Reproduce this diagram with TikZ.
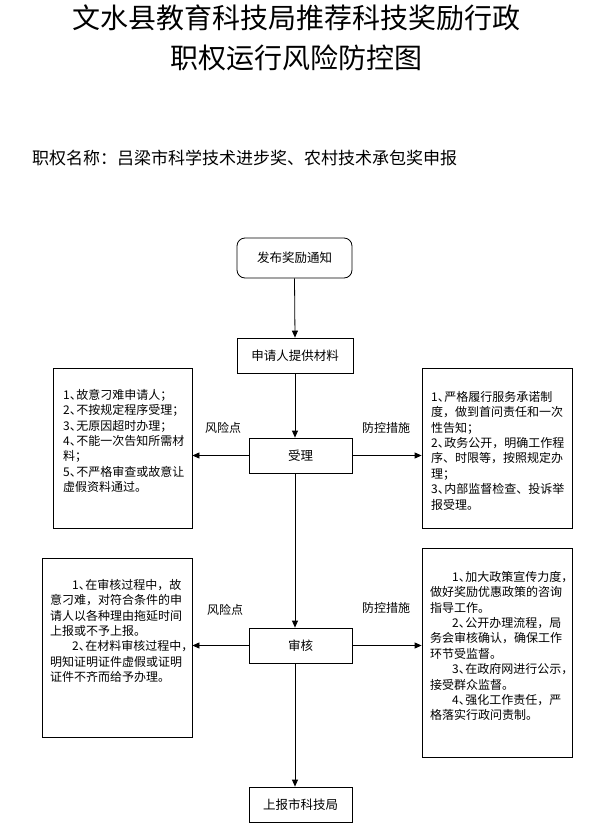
\documentclass[tikz,border=0pt]{standalone}
\usepackage{fontspec}
\setmainfont{Noto Sans CJK SC}
\usetikzlibrary{arrows.meta,positioning}
\newcommand{\dn}{\makebox[6.5pt][l]{、}}
\newcommand{\nc}{\makebox[5pt][l]{，}}
\tikzset{
  box/.style={draw, line width=0.8pt, rectangle, inner sep=0pt, font=\fontsize{12.5}{14}\selectfont},
  rbox/.style={box, rounded corners=8pt},
  arr/.style={line width=0.8pt, -{Triangle[length=7pt,width=6pt]}},
  lbl/.style={inner sep=0pt, font=\fontsize{12}{14}\selectfont},
  txt/.style={inner sep=0pt, anchor=north west, align=left, font=\fontsize{12}{15.4}\selectfont},
}
\begin{document}
\begin{tikzpicture}[x=1pt,y=-1pt]
\useasboundingbox (0,0) rectangle (593,835);
% titles
\node[inner sep=0pt, font=\fontsize{28}{30}\selectfont] (t1) at (295.5,18) {\hbox to 446pt{文\hfill 水\hfill 县\hfill 教\hfill 育\hfill 科\hfill 技\hfill 局\hfill 推\hfill 荐\hfill 科\hfill 技\hfill 奖\hfill 励\hfill 行\hfill 政}};
\node[inner sep=0pt, font=\fontsize{28}{30}\selectfont] (t2) at (296,57.5) {职权运行风险防控图};
\node[inner sep=0pt, anchor=west, font=\fontsize{17}{19}\selectfont] (st) at (32,158) {职权名称：吕梁市科学技术进步奖、农村技术承包奖申报};
% main flow
\node[rbox, minimum width=115pt, minimum height=40pt] (n1) at (294.5,258) {发布奖励通知};
\node[box, minimum width=116pt, minimum height=35pt] (n2) at (295,355.5) {申请人提供材料};
\node[box, minimum width=103pt, minimum height=35pt] (n3) at (300.5,455.5) {受理};
\node[box, minimum width=103pt, minimum height=35pt] (n4) at (300.5,645.5) {审核};
\node[box, minimum width=103pt, minimum height=35pt] (n5) at (300.5,804.5) {上报市科技局};
% side boxes
\node[box, minimum width=139pt, minimum height=160pt] (r1) at (122.5,448) {};
\node[box, minimum width=150pt, minimum height=160pt] (c1) at (497,448) {};
\node[box, minimum width=150pt, minimum height=179pt] (r2) at (117,647.5) {};
\node[box, minimum width=150pt, minimum height=209pt] (c2) at (497,652.5) {};
% texts
\node[txt] (r1t) at (63,389) {1\dn 故意刁难申请人；\\2\dn 不按规定程序受理；\\3\dn 无原因超时办理；\\4\dn 不能一次告知所需材\\料；\\5\dn 不严格审查或故意让\\虚假资料通过。};
\node[txt] (c1t) at (431,391) {1\dn 严格履行服务承诺制\\度，做到首问责任和一次\\性告知；\\2\dn 政务公开，明确工作程\\序、时限等，按照规定办\\理；\\3\dn 内部监督检查、投诉举\\报受理。};
\node[txt] (r2t) at (50,579) {\hspace*{22pt}1\dn 在审核过程中，故\\意刁难，对符合条件的申\\请人以各种理由拖延时间\\上报或不予上报。\\\hspace*{22pt}2\dn 在材料审核过程中\nc\\明知证明证件虚假或证明\\证件不齐而给予办理。};
\node[txt] (c2t) at (430,571) {\hspace*{22pt}1\dn 加大政策宣传力度\nc\\做好奖励优惠政策的咨询\\指导工作。\\\hspace*{22pt}2\dn 公开办理流程，局\\务会审核确认，确保工作\\环节受监督。\\\hspace*{22pt}3\dn 在政府网进行公示\nc\\接受群众监督。\\\hspace*{22pt}4\dn 强化工作责任，严\\格落实行政问责制。};
% labels
\node[lbl] (l1) at (223,428) {风险点};
\node[lbl] (l2) at (386,428) {防控措施};
\node[lbl] (l3) at (225,610) {风险点};
\node[lbl] (l4) at (386,608) {防控措施};
% arrows
\draw[arr] (n1.south) -- (n2.north);
\draw[arr] (n2.south) -- (n2.south |- n3.north);
\draw[arr] (n2.south |- n3.south) -- (n2.south |- n4.north);
\draw[arr] (n2.south |- n4.south) -- (n2.south |- n5.north);
\draw[arr] (n3.west) -- (n3.west -| r1.east);
\draw[arr] (n3.east) -- (n3.east -| c1.west);
\draw[arr] (n4.west) -- (n4.west -| r2.east);
\draw[arr] (n4.east) -- (n4.east -| c2.west);
\end{tikzpicture}
\end{document}
